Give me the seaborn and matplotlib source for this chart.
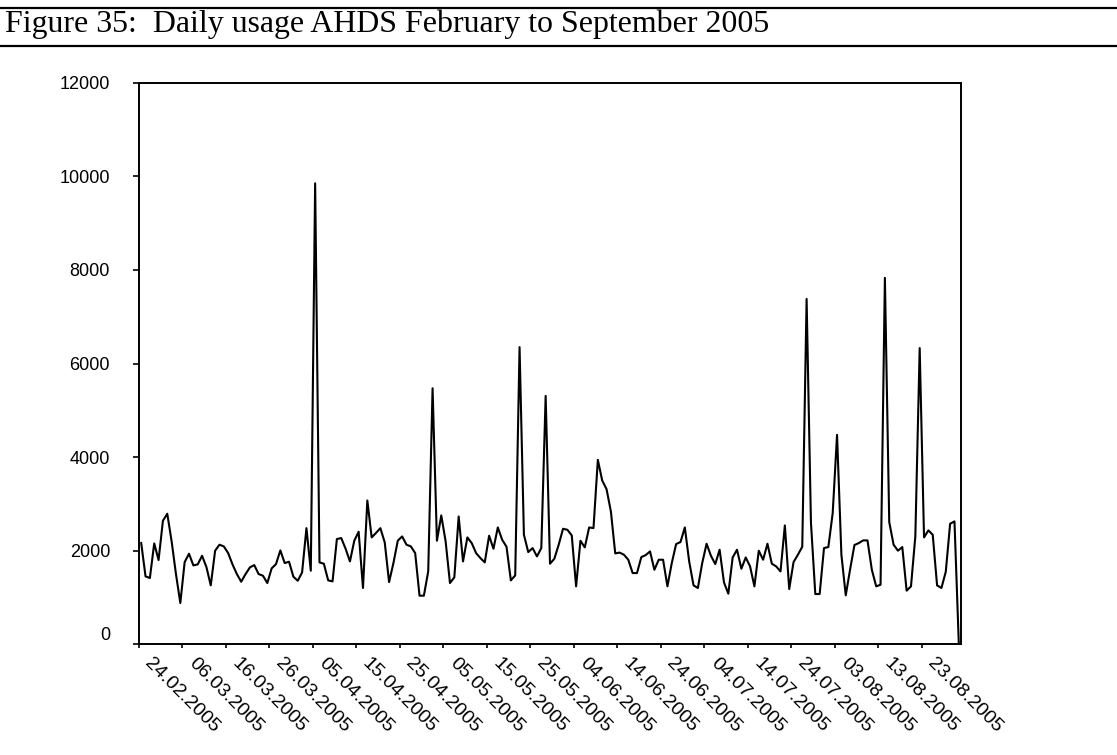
import numpy as np
import pandas as pd
import matplotlib
matplotlib.use("Agg")
import matplotlib.pyplot as plt
import seaborn as sns
from matplotlib.lines import Line2D
from matplotlib.transforms import ScaledTranslation

# ---------------- data ----------------
start_date = "2005-02-24"
daily_usage = [
    2170, 1452, 1416, 2156, 1800, 2640, 2790, 2200, 1500, 882,
    1757, 1935, 1686, 1707, 1892, 1650, 1259, 2000, 2128, 2092,
    1949, 1707, 1501, 1337, 1501, 1643, 1693, 1501, 1465, 1309,
    1622, 1714, 2006, 1736, 1764, 1444, 1358, 1536, 2482, 1572,
    9850, 1750, 1722, 1366, 1344, 2249, 2270, 2042, 1771, 2213,
    2405, 1203, 3073, 2284, 2380, 2482, 2177, 1330, 1736, 2213,
    2305, 2128, 2092, 1949, 1039, 1039, 1557, 5471, 2213, 2753,
    2200, 1309, 1430, 2731, 1771, 2284, 2163, 1949, 1842, 1750,
    2320, 2042, 2497, 2234, 2085, 1366, 1472, 6350, 2341, 1970,
    2056, 1878, 2056, 5307, 1722, 1828, 2128, 2469, 2447, 2327,
    1238, 2213, 2071, 2497, 2483, 3942, 3500, 3316, 2838, 1942,
    1960, 1914, 1807, 1522, 1522, 1864, 1906, 1985, 1593, 1807,
    1807, 1238, 1736, 2142, 2185, 2497, 1771, 1259, 1203, 1736,
    2149, 1892, 1714, 2021, 1323, 1081, 1856, 2021, 1615, 1856,
    1665, 1238, 2000, 1807, 2149, 1722, 1665, 1557, 2540, 1181,
    1757, 1914, 2085, 7380, 2600, 1074, 1074, 2056, 2078, 2804,
    4475, 1914, 1046, 1600, 2121, 2163, 2220, 2220, 1593, 1238,
    1273, 7830, 2612, 2128, 2000, 2078, 1146, 1238, 2305, 6330,
    2284, 2434, 2341, 1259, 1203, 1551, 2576, 2626, 0,
]
y_ticks = [0, 2000, 4000, 6000, 8000, 10000, 12000]
x_tick_labels = [
    "24.02.2005", "06.03.2005", "16.03.2005", "26.03.2005", "05.04.2005",
    "15.04.2005", "25.04.2005", "05.05.2005", "15.05.2005", "25.05.2005",
    "04.06.2005", "14.06.2005", "24.06.2005", "04.07.2005", "14.07.2005",
    "24.07.2005", "03.08.2005", "13.08.2005", "23.08.2005",
]
title_text = "Figure 35:  Daily usage AHDS February to September 2005"

n = len(daily_usage)
dates = pd.date_range(start_date, periods=n)
df = pd.DataFrame({"day": np.arange(n), "date": dates, "usage": daily_usage})

# ---------------- style ----------------
sns.set_theme(style="ticks")
plt.rcParams["font.family"] = ["Liberation Sans", "DejaVu Sans"]

W, H = 1117, 755
fig = plt.figure(figsize=(W / 100, H / 100), dpi=100)
fig.patch.set_facecolor("white")

left, right, top, bottom = 139, 961, 82.7, 644.3
ax = fig.add_axes([left / W, 1 - bottom / H, (right - left) / W, (bottom - top) / H])
ax.set_facecolor("white")

sns.lineplot(data=df, x="day", y="usage", color="black", linewidth=1.5,
             ax=ax, legend=False)

ax.set_xlim(-0.5, n - 0.5)
ax.set_ylim(0, 12000)
ax.set_xlabel("")
ax.set_ylabel("")

for s in ax.spines.values():
    s.set_visible(True)
    s.set_color("black")
    s.set_linewidth(1.4)

# y axis
ax.set_yticks(y_ticks)
ax.set_yticklabels([str(v) for v in y_ticks])
ax.tick_params(axis="y", which="major", direction="out", length=4.3, width=1.2,
               color="black", pad=16.5, labelsize=13, labelcolor="black")

# x axis: tick marks at category boundaries, labels at category centres
label_pos = np.arange(0, n, 10)[: len(x_tick_labels)]
ax.set_xticks(label_pos - 0.5)
ax.set_xticklabels([])
ax.tick_params(axis="x", which="major", direction="out", length=3.2, width=1.2,
               color="black")
ax.set_xticks(label_pos, minor=True)
ax.set_xticklabels(x_tick_labels, minor=True, rotation=-45, ha="left", va="top",
                   rotation_mode="anchor", fontsize=14, color="black")
ax.tick_params(axis="x", which="minor", length=0, pad=7.5)

off_x = ScaledTranslation(12.5 / 100, 0, fig.dpi_scale_trans)
for t in ax.xaxis.get_minor_ticks():
    t.label1.set_transform(t.label1.get_transform() + off_x)

# the "0" label sits a little higher
t0 = ax.yaxis.get_major_ticks()[0]
t0.label1.set_transform(t0.label1.get_transform() +
                        ScaledTranslation(0, 11 / 100, fig.dpi_scale_trans))

# ---------------- title block ----------------
fig.add_artist(Line2D([0, 1], [1 - 8 / H] * 2, transform=fig.transFigure,
                      color="black", linewidth=1.6))
fig.add_artist(Line2D([0, 1], [1 - 45.7 / H] * 2, transform=fig.transFigure,
                      color="black", linewidth=1.6))
ttl = fig.text(5 / W, 1 - 32 / H, title_text, ha="left", va="baseline",
               family=["Liberation Serif", "DejaVu Serif"], fontsize=18.5,
               color="black")
# fit the title width to the reference (about 768 px)
fig.canvas.draw()
bb = ttl.get_window_extent()
ttl.set_fontsize(18.5 * 768 / bb.width)

fig.savefig("out.png", dpi=100, facecolor="white")
